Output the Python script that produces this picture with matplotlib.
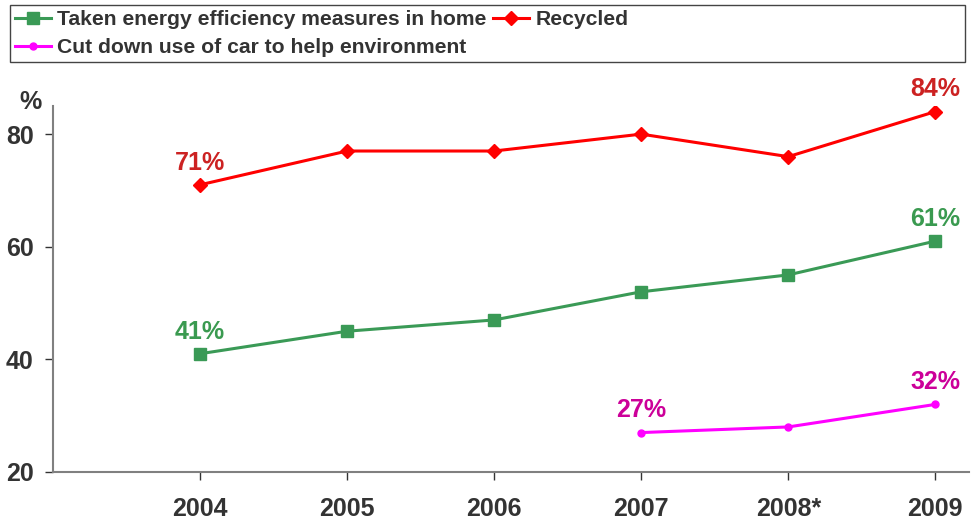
import matplotlib.pyplot as plt
from matplotlib.patches import Rectangle

plt.rcParams['font.family'] = ['Liberation Sans', 'DejaVu Sans']

# Datos
anios = ["2004", "2005", "2006", "2007", "2008*", "2009"]
eficiencia = [41, 45, 47, 52, 55, 61]
reciclado = [71, 77, 77, 80, 76, 84]
coche_idx = [3, 4, 5]
coche = [27, 28, 32]

x = list(range(len(anios)))
gris = '#333333'

fig = plt.figure(figsize=(9.74, 5.22), dpi=100)
ax = fig.add_axes([0.0544, 0.0958, 0.9406, 0.7012])

l1, = ax.plot(x, eficiencia, color='#3a9a56', marker='s', markersize=8, linewidth=2.2,
              label="Taken energy efficiency measures in home")
l2, = ax.plot(x, reciclado, color='#ff0000', marker='D', markersize=7, linewidth=2.2,
              label="Recycled")
l3, = ax.plot(coche_idx, coche, color='#ff00ff', marker='o', markersize=5, linewidth=2.2,
              label="Cut down use of car to help environment")

# Etiquetas de valores (primero y ultimo)
def etiqueta(xi, yi, color):
    ax.annotate(f"{yi}%", (xi, yi), xytext=(0, 16), textcoords='offset points',
                ha='center', va='center', fontsize=18, fontweight='bold', color=color)

etiqueta(x[0], eficiencia[0], '#3a9a50')
etiqueta(x[-1], eficiencia[-1], '#3a9a50')
etiqueta(x[0], reciclado[0], '#cc2222')
etiqueta(x[-1], reciclado[-1], '#cc2222')
etiqueta(coche_idx[0], coche[0], '#cc0099')
etiqueta(coche_idx[-1], coche[-1], '#cc0099')

ax.set_xlim(-1, 5.23)
ax.set_ylim(20, 85)
ax.set_xticks(x)
ax.set_xticklabels(anios)
ax.set_yticks([20, 40, 60, 80])

for s in ['top', 'right']:
    ax.spines[s].set_visible(False)
for s in ['left', 'bottom']:
    ax.spines[s].set_color('#808080')
    ax.spines[s].set_linewidth(1.5)

ax.tick_params(axis='both', direction='out', length=6, width=1, color=gris,
               labelsize=18, labelcolor=gris)
ax.tick_params(axis='x', pad=12)
ax.tick_params(axis='y', pad=8)
for t in ax.get_xticklabels() + ax.get_yticklabels():
    t.set_fontweight('bold')

ax.text(-0.025, 1.01, "%", transform=ax.transAxes, fontsize=18, fontweight='bold',
        color=gris, ha='center', va='center')

# Leyenda con marco a todo lo ancho
leg = fig.legend(handles=[l1, l3, l2], loc='upper left', ncol=2,
                 bbox_to_anchor=(0.0154, 0.980),
                 fontsize=15.2, frameon=False, handlelength=1.7,
                 handletextpad=0.3, borderpad=0.0, labelspacing=0.42, columnspacing=0.3,
                 borderaxespad=0)
for t in leg.get_texts():
    t.set_fontweight('bold')
    t.set_color(gris)

fig.patches.append(Rectangle((10 / 974, 1 - 62 / 522), 955 / 974, 57 / 522,
                             transform=fig.transFigure, fill=False,
                             edgecolor='#444444', linewidth=1))

fig.savefig("out.png", dpi=100)
